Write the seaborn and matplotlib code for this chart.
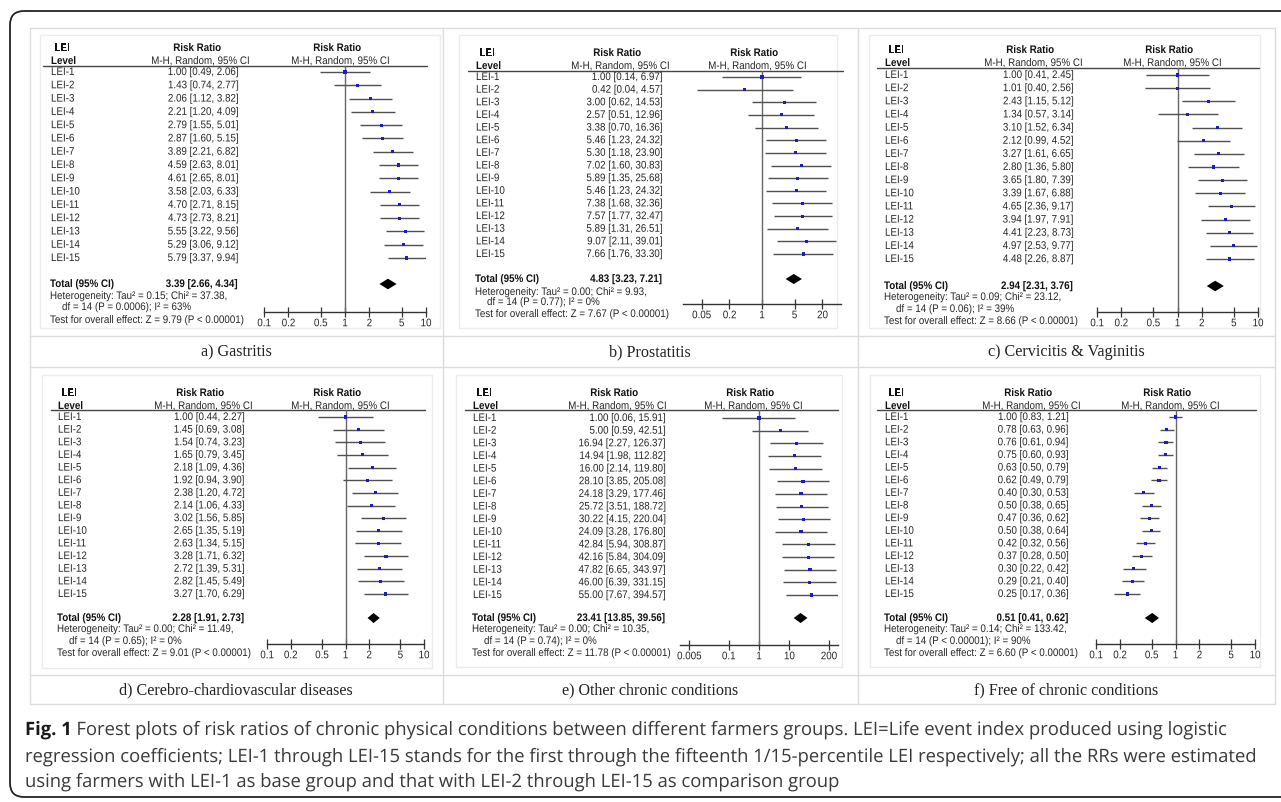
import matplotlib
matplotlib.use('Agg')
import matplotlib.pyplot as plt
import seaborn as sns
import pandas as pd
from matplotlib.patches import FancyBboxPatch, Rectangle
from matplotlib.patheffects import AbstractPathEffect
from matplotlib.transforms import Affine2D
from matplotlib.ticker import NullLocator

W, H = 1281, 802

levels = ['LEI-%d' % i for i in range(1, 16)]

# a) Gastritis
gas_rr = [1.00, 1.43, 2.06, 2.21, 2.79, 2.87, 3.89, 4.59, 4.61, 3.58, 4.70, 4.73, 5.55, 5.29, 5.79]
gas_lo = [0.49, 0.74, 1.12, 1.20, 1.55, 1.60, 2.21, 2.63, 2.65, 2.03, 2.71, 2.73, 3.22, 3.06, 3.37]
gas_hi = [2.06, 2.77, 3.82, 4.09, 5.01, 5.15, 6.82, 8.01, 8.01, 6.33, 8.15, 8.21, 9.56, 9.12, 9.94]
gas_total = [3.39, 2.66, 4.34]
gas_stats = ['0.15', '37.38', 'P = 0.0006', '63', '9.79']  # tau2, chi2, p, I2, Z

# b) Prostatitis
pro_rr = [1.00, 0.42, 3.00, 2.57, 3.38, 5.46, 5.30, 7.02, 5.89, 5.46, 7.38, 7.57, 5.89, 9.07, 7.66]
pro_lo = [0.14, 0.04, 0.62, 0.51, 0.70, 1.23, 1.18, 1.60, 1.35, 1.23, 1.68, 1.77, 1.31, 2.11, 1.76]
pro_hi = [6.97, 4.57, 14.53, 12.96, 16.36, 24.32, 23.90, 30.83, 25.68, 24.32, 32.36, 32.47, 26.51, 39.01, 33.30]
pro_total = [4.83, 3.23, 7.21]
pro_stats = ['0.00', '9.93', 'P = 0.77', '0', '7.67']

# c) Cervicitis & Vaginitis
cer_rr = [1.00, 1.01, 2.43, 1.34, 3.10, 2.12, 3.27, 2.80, 3.65, 3.39, 4.65, 3.94, 4.41, 4.97, 4.48]
cer_lo = [0.41, 0.40, 1.15, 0.57, 1.52, 0.99, 1.61, 1.36, 1.80, 1.67, 2.36, 1.97, 2.23, 2.53, 2.26]
cer_hi = [2.45, 2.56, 5.12, 3.14, 6.34, 4.52, 6.65, 5.80, 7.39, 6.88, 9.17, 7.91, 8.73, 9.77, 8.87]
cer_total = [2.94, 2.31, 3.76]
cer_stats = ['0.09', '23.12', 'P = 0.06', '39', '8.66']

# d) Cerebro-chardiovascular diseases
ccv_rr = [1.00, 1.45, 1.54, 1.65, 2.18, 1.92, 2.38, 2.14, 3.02, 2.65, 2.63, 3.28, 2.72, 2.82, 3.27]
ccv_lo = [0.44, 0.69, 0.74, 0.79, 1.09, 0.94, 1.20, 1.06, 1.56, 1.35, 1.34, 1.71, 1.39, 1.45, 1.70]
ccv_hi = [2.27, 3.08, 3.23, 3.45, 4.36, 3.90, 4.72, 4.33, 5.85, 5.19, 5.15, 6.32, 5.31, 5.49, 6.29]
ccv_total = [2.28, 1.91, 2.73]
ccv_stats = ['0.00', '11.49', 'P = 0.65', '0', '9.01']

# e) Other chronic conditions
oth_rr = [1.00, 5.00, 16.94, 14.94, 16.00, 28.10, 24.18, 25.72, 30.22, 24.09, 42.84, 42.16, 47.82, 46.00, 55.00]
oth_lo = [0.06, 0.59, 2.27, 1.98, 2.14, 3.85, 3.29, 3.51, 4.15, 3.28, 5.94, 5.84, 6.65, 6.39, 7.67]
oth_hi = [15.91, 42.51, 126.37, 112.82, 119.80, 205.08, 177.46, 188.72, 220.04, 176.80, 308.87, 304.09,
          343.97, 331.15, 394.57]
oth_total = [23.41, 13.85, 39.56]
oth_stats = ['0.00', '10.35', 'P = 0.74', '0', '11.78']

# f) Free of chronic conditions
fre_rr = [1.00, 0.78, 0.76, 0.75, 0.63, 0.62, 0.40, 0.50, 0.47, 0.50, 0.42, 0.37, 0.30, 0.29, 0.25]
fre_lo = [0.83, 0.63, 0.61, 0.60, 0.50, 0.49, 0.30, 0.38, 0.36, 0.38, 0.32, 0.28, 0.22, 0.21, 0.17]
fre_hi = [1.21, 0.96, 0.94, 0.93, 0.79, 0.79, 0.53, 0.65, 0.62, 0.64, 0.56, 0.50, 0.42, 0.40, 0.36]
fre_total = [0.51, 0.41, 0.62]
fre_stats = ['0.14', '133.42', 'P < 0.00001', '90', '6.60']

titles = ['a) Gastritis', 'b) Prostatitis', 'c) Cervicitis & Vaginitis',
          'd) Cerebro-chardiovascular diseases', 'e) Other chronic conditions',
          'f) Free of chronic conditions']

ticks_std = [0.1, 0.2, 0.5, 1, 2, 5, 10]
ticks_b = [0.05, 0.2, 1, 5, 20]
ticks_e = [0.005, 0.1, 1, 10, 200]

caption = [
    'Forest plots of risk ratios of chronic physical conditions between different farmers groups. '
    'LEI=Life event index produced using logistic',
    'regression coefficients; LEI-1 through LEI-15 stands for the first through the fifteenth '
    '1/15-percentile LEI respectively; all the RRs were estimated',
    'using farmers with LEI-1 as base group and that with LEI-2 through LEI-15 as comparison group',
]


class Tall(AbstractPathEffect):
    """stretch glyphs vertically, so narrow-looking text keeps its true width"""

    def __init__(self, sy):
        super().__init__()
        self.sy = sy

    def draw_path(self, renderer, gc, tpath, affine, rgbFace=None):
        renderer.draw_path(gc, tpath, Affine2D().scale(1, self.sy) + affine, rgbFace)


sns.set_theme(style='white')
SANS = ['Liberation Sans', 'DejaVu Sans']
plt.rcParams['font.family'] = SANS
FS = 7.05
TALL = [Tall(1.12)]

# layout of each panel, in pixels of the picture
layout = [
    dict(lab=51, val=238, rr1=197, rr2=337, lei=48, lev=61, hl=66, hlx=(43, 427), r0=72, r14=258,
         tot=284, het=296, df=307, test=320, ax_y=312, fx=(264, 426), xlim=(0.1, 10), box=(40, 35, 440, 328)),
    dict(lab=476, val=662, rr1=617, rr2=754, lei=53, lev=66, hl=71, hlx=(468, 843), r0=77, r14=254,
         tot=279, het=292, df=302, test=314, ax_y=304, fx=(683, 841), xlim=(0.02, 50), box=(459, 35, 837, 328)),
    dict(lab=885, val=1073, rr1=1030, rr2=1169, lei=50, lev=63, hl=68, hlx=(877, 1259), r0=75, r14=259,
         tot=286, het=297, df=309, test=321, ax_y=312, fx=(1097, 1258), xlim=(0.1, 10), box=(869, 35, 1260, 328)),
    dict(lab=58, val=244, rr1=200, rr2=337, lei=393, lev=406, hl=410, hlx=(51, 425), r0=417, r14=594,
         tot=618, het=629, df=641, test=653, ax_y=644, fx=(267, 424), xlim=(0.1, 10), box=(42, 375, 432, 668)),
    dict(lab=473, val=665, rr1=614, rr2=750, lei=393, lev=406, hl=410, hlx=(465, 838), r0=418, r14=595,
         tot=618, het=629, df=641, test=653, ax_y=645, fx=(680, 838), xlim=(0.0025, 400), box=(456, 375, 842, 667)),
    dict(lab=885, val=1068, rr1=1028, rr2=1167, lei=393, lev=406, hl=410, hlx=(877, 1256), r0=417, r14=594,
         tot=618, het=629, df=641, test=653, ax_y=644, fx=(1096, 1255), xlim=(0.1, 10), box=(870, 375, 1260, 667)),
]

panels = [
    (gas_rr, gas_lo, gas_hi, gas_total, gas_stats, ticks_std),
    (pro_rr, pro_lo, pro_hi, pro_total, pro_stats, ticks_b),
    (cer_rr, cer_lo, cer_hi, cer_total, cer_stats, ticks_std),
    (ccv_rr, ccv_lo, ccv_hi, ccv_total, ccv_stats, ticks_std),
    (oth_rr, oth_lo, oth_hi, oth_total, oth_stats, ticks_e),
    (fre_rr, fre_lo, fre_hi, fre_total, fre_stats, ticks_std),
]

fig = plt.figure(figsize=(W / 100, H / 100), dpi=100)
fig.patch.set_facecolor('white')

bg = fig.add_axes([0, 0, 1, 1])
bg.set_xlim(0, W)
bg.set_ylim(H, 0)
bg.axis('off')


def put(x, y, s, ha='left', bold=False, color='#262626'):
    bg.text(x, y, s, ha=ha, va='center', fontsize=FS, weight='bold' if bold else 'normal',
            color=color, family=SANS, path_effects=TALL)


# outer rounded frame
bg.add_patch(FancyBboxPatch((10, 11), 1290, 786, boxstyle='round,pad=0,rounding_size=14',
                            ec='#222222', fc='none', lw=1.3))

# table grid
grid_c = '#dcdcdc'
for y in [28, 336, 367, 675, 704]:
    bg.plot([30, 1275], [y, y], color=grid_c, lw=1)
for x in [30, 443, 858, 1275]:
    bg.plot([x, x], [28, 704], color=grid_c, lw=1)

cap_x = [236, 650, 1066]
for k, t in enumerate(titles):
    bg.text(cap_x[k % 3], 352 if k < 3 else 690, t, ha='center', va='center',
            family=['Liberation Serif', 'DejaVu Serif'], fontsize=11.6, color='#222222')


def fmt(v):
    return '%.2f' % v


for k, (rr, lo, hi, tot, st, ticks) in enumerate(panels):
    L = layout[k]
    step = (L['r14'] - L['r0']) / 14.0
    x0, y0, x1, y1 = L['box']
    bg.add_patch(Rectangle((x0, y0), x1 - x0, y1 - y0, ec='#ececec', fc='none', lw=1))

    # header
    put(L['lab'] + 11, L['lei'], 'LEI', ha='center', bold=True, color='#111111')
    put(L['lab'], L['lev'], 'Level', bold=True, color='#111111')
    for cx in (L['rr1'], L['rr2']):
        put(cx, L['lei'], 'Risk Ratio', ha='center', bold=True, color='#111111')
        put(cx + 3, L['lev'], 'M-H, Random, 95% CI', ha='center')
    bg.plot(L['hlx'], [L['hl'], L['hl']], color='#444444', lw=1)

    # rows
    for i, lab in enumerate(levels):
        y = L['r0'] + i * step
        put(L['lab'], y, lab)
        put(L['val'], y, '%s [%s, %s]' % (fmt(rr[i]), fmt(lo[i]), fmt(hi[i])), ha='right')

    put(L['lab'] - 1, L['tot'], 'Total (95% CI)', bold=True, color='#111111')
    put(L['val'], L['tot'], '%s [%s, %s]' % (fmt(tot[0]), fmt(tot[1]), fmt(tot[2])), ha='right',
        bold=True, color='#111111')
    put(L['lab'] - 1, L['het'], 'Heterogeneity: Tau\u00b2 = %s; Chi\u00b2 = %s,' % (st[0], st[1]))
    put(L['lab'] + 11, L['df'], 'df = 14 (%s); I\u00b2 = %s%%' % (st[2], st[3]))
    put(L['lab'] - 1, L['test'], 'Test for overall effect: Z = %s (P < 0.00001)' % st[4])

    # forest axes
    fx0, fx1 = L['fx']
    ax = fig.add_axes([fx0 / W, 1 - L['ax_y'] / H, (fx1 - fx0) / W, (L['ax_y'] - L['hl']) / H])
    ax.set_facecolor('none')
    df = pd.DataFrame({'level': levels, 'row': range(15), 'rr': rr, 'lo': lo, 'hi': hi})
    ax.set_xscale('log')
    ax.hlines(df['row'], df['lo'], df['hi'], color='#505050', lw=1)
    sns.scatterplot(data=df, x='rr', y='row', marker='s', s=5, color='#1c1cc0', edgecolor='none',
                    ax=ax, legend=False, zorder=3)
    ax.axvline(1, color='#666666', lw=1, zorder=1)
    t_row = (L['tot'] - L['r0']) / step
    ax.fill([tot[1], tot[0], tot[2], tot[0]], [t_row, t_row - 0.4, t_row, t_row + 0.4], color='black', lw=0)
    ax.set_xlim(*L['xlim'])
    ax.set_ylim((L['ax_y'] - L['r0']) / step, (L['hl'] - L['r0']) / step)
    ax.set_xlabel('')
    ax.set_ylabel('')
    for s in ['top', 'left', 'right']:
        ax.spines[s].set_visible(False)
    ax.spines['bottom'].set_color('#333333')
    ax.spines['bottom'].set_linewidth(1)
    ax.set_yticks([])
    ax.set_xticks(ticks)
    ax.set_xticklabels(['%g' % v for v in ticks], family=SANS, fontsize=FS, color='#262626')
    ax.xaxis.set_minor_locator(NullLocator())
    ax.tick_params(axis='x', direction='inout', length=7, width=0.9, color='#333333', pad=1, bottom=True)
    for tk in ax.xaxis.get_major_ticks():
        tk.label1.set_path_effects(TALL)

# figure caption below the table, fitted to the width of the second line
fig.canvas.draw()
r = fig.canvas.get_renderer()
CAP = ['Open Sans', 'Liberation Sans', 'DejaVu Sans']
cap_x0 = 25
cap_y = [730, 757, 782]
probe = bg.text(0, 0, caption[1], fontsize=12, family=CAP)
w = probe.get_window_extent(r).width
probe.remove()
cfs = 12 * 1225.0 / w
cap_h = 0.714 * cfs * 100 / 72.0
CAP_TALL = [Tall(max(1.0, 11.3 / cap_h))]
fig_t = bg.text(cap_x0, cap_y[0], 'Fig. 1', ha='left', va='center', fontsize=cfs, weight='bold', family=CAP,
                color='#1a1a1a', path_effects=CAP_TALL)
fig.canvas.draw()
fw = fig_t.get_window_extent(r).width
bg.text(cap_x0 + fw, cap_y[0], ' ' + caption[0], ha='left', va='center', fontsize=cfs, family=CAP,
        color='#3a3a3a', path_effects=CAP_TALL)
for j in (1, 2):
    bg.text(cap_x0, cap_y[j], caption[j], ha='left', va='center', fontsize=cfs, family=CAP,
            color='#3a3a3a', path_effects=CAP_TALL)

fig.savefig('out.png', dpi=100, facecolor='white')
